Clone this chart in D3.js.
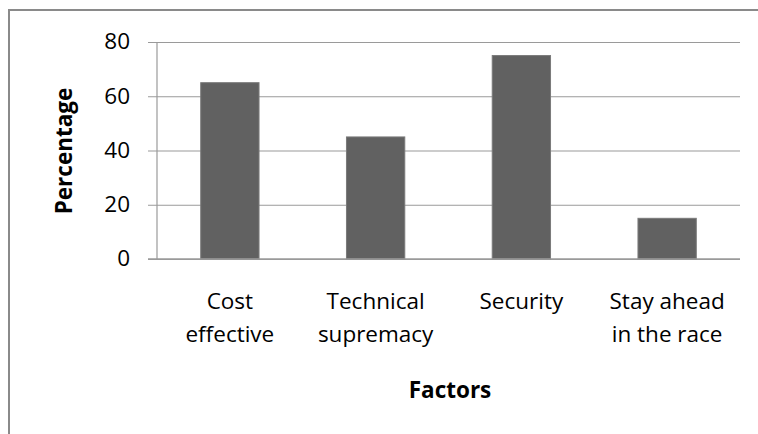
<!DOCTYPE html>
<html>
<head>
<meta charset="utf-8">
<script src="https://cdn.jsdelivr.net/npm/d3@7"></script>
<style>
  html, body { margin: 0; padding: 0; background: #fff; }
  svg { display: block; }
  text { font-family: "Open Sans", "Noto Sans", sans-serif; fill: #000; }
</style>
</head>
<body>
<svg id="chart" width="758" height="434"></svg>
<script>
// Factors and their share, in percent
const categories = [["Cost", "effective"], ["Technical", "supremacy"], ["Security"], ["Stay ahead", "in the race"]];
const values = [65, 45, 75, 15];
const yTicks = [0, 20, 40, 60, 80];
const yTitle = "Percentage";
const xTitle = "Factors";

const svg = d3.select("#chart");
const W = 758, H = 434;
const plot = { left: 157, right: 740, top: 42, bottom: 259 };
const fontSize = "22.5px";

// outer frame (left and top edges only show inside the view)
svg.append("rect")
  .attr("x", 9).attr("y", 10)
  .attr("width", W + 20).attr("height", H + 20)
  .attr("fill", "none").attr("stroke", "#8a8a8a").attr("stroke-width", 2);

const keys = categories.map((c, i) => i);
const x = d3.scaleBand().domain(keys).range([plot.left, plot.right])
  .paddingInner(0.6).paddingOuter(0.3);
const y = d3.scaleLinear().domain([0, 80]).range([plot.bottom, plot.top]);

// gridlines + y ticks
const yAxis = d3.axisLeft(y).tickValues(yTicks)
  .tickSize(-(plot.right - plot.left + 9));
const gy = svg.append("g").attr("transform", `translate(${plot.left - 9},0)`)
  .call(yAxis);
gy.select(".domain").remove();
gy.selectAll(".tick line").attr("stroke", "#9a9a9a").attr("stroke-width", 1.2);
gy.selectAll(".tick text")
  .attr("x", -18).attr("dy", "0.3em")
  .style("font-size", fontSize).attr("fill", "#000").attr("text-anchor", "end");

// y axis line
svg.append("line")
  .attr("x1", plot.left).attr("x2", plot.left)
  .attr("y1", y(80)).attr("y2", y(0))
  .attr("stroke", "#9a9a9a").attr("stroke-width", 1.2);

// bars
svg.append("g").selectAll("rect").data(values).join("rect")
  .attr("x", (d, i) => x(i))
  .attr("width", x.bandwidth())
  .attr("y", d => y(d))
  .attr("height", d => y(0) - y(d))
  .attr("fill", "#616161")
  .attr("stroke", "#7a7a7a").attr("stroke-width", 1);

// x axis baseline
svg.append("line")
  .attr("x1", plot.left - 9).attr("x2", plot.right)
  .attr("y1", y(0)).attr("y2", y(0))
  .attr("stroke", "#9a9a9a").attr("stroke-width", 1.4);

// category labels
const lab = svg.append("g").selectAll("text").data(categories).join("text")
  .attr("text-anchor", "middle")
  .style("font-size", fontSize);
lab.each(function(lines, i) {
  const t = d3.select(this);
  lines.forEach((s, j) => {
    t.append("tspan")
      .attr("x", x(i) + x.bandwidth() / 2)
      .attr("y", 309 + j * 33)
      .text(s);
  });
});

// axis titles
svg.append("text")
  .attr("transform", `translate(72,151) rotate(-90)`)
  .attr("text-anchor", "middle")
  .style("font-size", fontSize).style("font-weight", "bold")
  .text(yTitle);
svg.append("text")
  .attr("x", 450).attr("y", 398)
  .attr("text-anchor", "middle")
  .style("font-size", fontSize).style("font-weight", "bold")
  .text(xTitle);
</script>
</body>
</html>
